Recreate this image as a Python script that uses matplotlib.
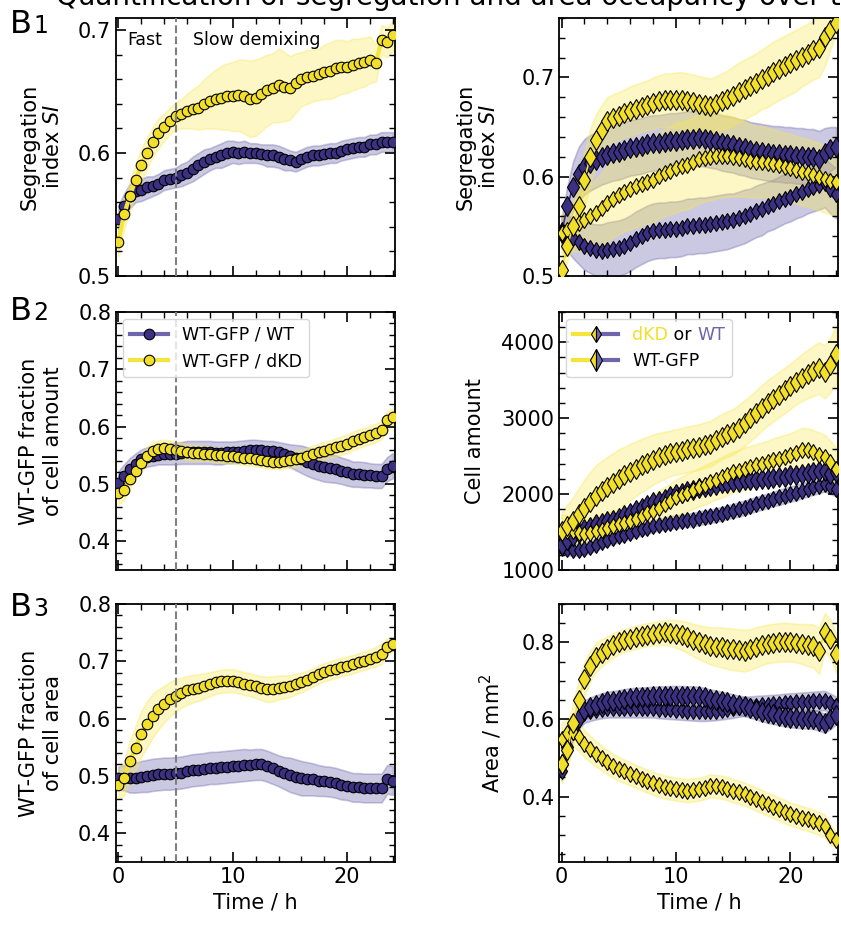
import numpy as np
import matplotlib
matplotlib.use("Agg")
from matplotlib import pyplot as plt
from matplotlib.legend_handler import HandlerBase
from matplotlib.lines import Line2D
from matplotlib.ticker import MultipleLocator

# time points (every 30 min)
t = np.arange(0, 24.5, 0.5)

# ---------- left column: WT-GFP / WT (purple) and WT-GFP / dKD (yellow) ----------
# B1 segregation index
si_wt = [0.546, 0.557, 0.565, 0.569, 0.570, 0.572, 0.573,
         0.575, 0.578, 0.579, 0.580, 0.582, 0.584, 0.587,
         0.590, 0.593, 0.595, 0.597, 0.598, 0.600, 0.601,
         0.600, 0.601, 0.600, 0.600, 0.599, 0.598, 0.598,
         0.597, 0.595, 0.594, 0.593, 0.595, 0.597, 0.598,
         0.598, 0.599, 0.600, 0.600, 0.602, 0.603, 0.604,
         0.605, 0.605, 0.607, 0.607, 0.609, 0.609, 0.609]
si_wt_sd = [0.011, 0.010, 0.010, 0.009, 0.009, 0.009, 0.008,
            0.008, 0.008, 0.008, 0.008, 0.009, 0.009, 0.010,
            0.010, 0.010, 0.009, 0.009, 0.010, 0.010, 0.009,
            0.009, 0.009, 0.008, 0.008, 0.008, 0.009, 0.009,
            0.009, 0.009, 0.008, 0.008, 0.008, 0.008, 0.008,
            0.008, 0.008, 0.008, 0.008, 0.008, 0.008, 0.008,
            0.008, 0.008, 0.008, 0.008, 0.008, 0.008, 0.008]
si_dkd = [0.528, 0.550, 0.565, 0.578, 0.590, 0.600, 0.609,
          0.616, 0.621, 0.626, 0.630, 0.632, 0.634, 0.636,
          0.637, 0.640, 0.642, 0.644, 0.645, 0.646, 0.646,
          0.647, 0.646, 0.644, 0.645, 0.648, 0.651, 0.653,
          0.655, 0.654, 0.653, 0.657, 0.660, 0.662, 0.663,
          0.664, 0.666, 0.667, 0.669, 0.670, 0.670, 0.672,
          0.673, 0.674, 0.676, 0.673, 0.692, 0.690, 0.696]
si_dkd_sd = [0.012, 0.012, 0.012, 0.013, 0.013, 0.013, 0.012,
             0.012, 0.011, 0.011, 0.011, 0.012, 0.014, 0.016,
             0.018, 0.020, 0.022, 0.024, 0.026, 0.027, 0.028,
             0.029, 0.030, 0.031, 0.031, 0.030, 0.029, 0.028,
             0.030, 0.028, 0.026, 0.024, 0.022, 0.022, 0.021,
             0.021, 0.022, 0.023, 0.023, 0.022, 0.021, 0.021,
             0.020, 0.020, 0.019, 0.015, 0.012, 0.012, 0.012]

# B2 WT-GFP fraction of cell amount
n_wt = [0.502, 0.514, 0.526, 0.535, 0.543, 0.547, 0.549,
        0.551, 0.552, 0.552, 0.553, 0.554, 0.555, 0.555,
        0.555, 0.555, 0.555, 0.554, 0.554, 0.555, 0.555,
        0.556, 0.558, 0.559, 0.560, 0.559, 0.558, 0.557,
        0.555, 0.552, 0.549, 0.546, 0.543, 0.539, 0.535,
        0.532, 0.529, 0.527, 0.526, 0.523, 0.520, 0.517,
        0.517, 0.516, 0.515, 0.514, 0.514, 0.526, 0.532]
n_wt_sd = [0.020, 0.020, 0.019, 0.018, 0.017, 0.017, 0.017,
           0.017, 0.018, 0.018, 0.019, 0.019, 0.020, 0.020,
           0.020, 0.020, 0.020, 0.020, 0.020, 0.019, 0.019,
           0.019, 0.018, 0.018, 0.017, 0.017, 0.017, 0.018,
           0.018, 0.019, 0.020, 0.022, 0.024, 0.025, 0.025,
           0.025, 0.025, 0.024, 0.024, 0.023, 0.023, 0.022,
           0.022, 0.022, 0.021, 0.021, 0.021, 0.021, 0.022]
n_dkd = [0.484, 0.490, 0.508, 0.523, 0.537, 0.549, 0.558,
         0.561, 0.562, 0.561, 0.560, 0.557, 0.555, 0.554,
         0.554, 0.553, 0.552, 0.551, 0.550, 0.549, 0.549,
         0.547, 0.546, 0.545, 0.543, 0.542, 0.540, 0.539,
         0.539, 0.540, 0.542, 0.544, 0.546, 0.549, 0.552,
         0.555, 0.558, 0.561, 0.564, 0.567, 0.570, 0.575,
         0.579, 0.582, 0.585, 0.589, 0.594, 0.611, 0.617]
n_dkd_sd = [0.020, 0.018, 0.016, 0.015, 0.015, 0.015, 0.015,
            0.015, 0.015, 0.015, 0.014, 0.014, 0.014, 0.014,
            0.014, 0.013, 0.013, 0.013, 0.013, 0.013, 0.013,
            0.013, 0.013, 0.013, 0.013, 0.013, 0.013, 0.013,
            0.013, 0.013, 0.014, 0.014, 0.014, 0.014, 0.015,
            0.015, 0.015, 0.015, 0.016, 0.016, 0.016, 0.016,
            0.016, 0.016, 0.016, 0.016, 0.016, 0.016, 0.016]

# B3 WT-GFP fraction of cell area
a_wt = [0.496, 0.497, 0.496, 0.497, 0.499, 0.500, 0.502,
        0.503, 0.504, 0.504, 0.505, 0.506, 0.508, 0.510,
        0.511, 0.512, 0.514, 0.514, 0.515, 0.516, 0.517,
        0.518, 0.519, 0.519, 0.520, 0.520, 0.517, 0.513,
        0.509, 0.505, 0.502, 0.499, 0.496, 0.495, 0.494,
        0.492, 0.491, 0.490, 0.488, 0.485, 0.483, 0.480,
        0.480, 0.479, 0.479, 0.479, 0.479, 0.494, 0.492]
a_wt_sd = [0.020, 0.022, 0.025, 0.026, 0.027, 0.028, 0.028,
           0.028, 0.028, 0.028, 0.028, 0.028, 0.028, 0.028,
           0.028, 0.028, 0.028, 0.028, 0.028, 0.028, 0.028,
           0.028, 0.028, 0.027, 0.027, 0.027, 0.027, 0.027,
           0.027, 0.028, 0.030, 0.030, 0.030, 0.029, 0.028,
           0.027, 0.026, 0.026, 0.026, 0.026, 0.025, 0.025,
           0.025, 0.025, 0.025, 0.025, 0.025, 0.025, 0.025]
a_dkd = [0.485, 0.496, 0.526, 0.549, 0.573, 0.590, 0.605,
         0.616, 0.625, 0.634, 0.640, 0.645, 0.649, 0.652,
         0.654, 0.657, 0.660, 0.663, 0.665, 0.666, 0.666,
         0.664, 0.661, 0.659, 0.656, 0.653, 0.651, 0.652,
         0.654, 0.655, 0.657, 0.660, 0.663, 0.667, 0.672,
         0.677, 0.681, 0.684, 0.687, 0.690, 0.692, 0.695,
         0.698, 0.701, 0.704, 0.708, 0.713, 0.725, 0.730]
a_dkd_sd = [0.025, 0.030, 0.035, 0.038, 0.040, 0.040, 0.038,
            0.035, 0.032, 0.030, 0.028, 0.026, 0.025, 0.024,
            0.023, 0.022, 0.021, 0.020, 0.020, 0.020, 0.020,
            0.020, 0.020, 0.020, 0.020, 0.021, 0.022, 0.022,
            0.021, 0.020, 0.019, 0.018, 0.017, 0.016, 0.016,
            0.016, 0.016, 0.016, 0.016, 0.016, 0.016, 0.016,
            0.016, 0.016, 0.016, 0.017, 0.018, 0.015, 0.012]

# ---------- right column: per population ----------
# segregation index
r_si_gfp_dkd = [0.506, 0.530, 0.550, 0.570, 0.597, 0.620, 0.637,
                0.647, 0.656, 0.659, 0.661, 0.664, 0.666, 0.668,
                0.670, 0.672, 0.674, 0.676, 0.677, 0.677, 0.677,
                0.677, 0.676, 0.675, 0.673, 0.672, 0.671, 0.673,
                0.676, 0.678, 0.681, 0.685, 0.688, 0.691, 0.694,
                0.698, 0.701, 0.705, 0.708, 0.711, 0.714, 0.717,
                0.721, 0.724, 0.728, 0.730, 0.741, 0.748, 0.755]
r_si_gfp_dkd_sd = [0.010, 0.015, 0.020, 0.025, 0.028, 0.028, 0.026,
                   0.025, 0.024, 0.024, 0.024, 0.024, 0.025, 0.025,
                   0.025, 0.025, 0.026, 0.026, 0.027, 0.027, 0.028,
                   0.028, 0.028, 0.028, 0.028, 0.028, 0.028, 0.028,
                   0.028, 0.029, 0.030, 0.030, 0.030, 0.030, 0.030,
                   0.030, 0.031, 0.031, 0.031, 0.031, 0.031, 0.031,
                   0.030, 0.030, 0.030, 0.030, 0.030, 0.020, 0.010]
r_si_dkd = [0.543, 0.546, 0.550, 0.553, 0.556, 0.560, 0.563,
            0.568, 0.573, 0.578, 0.582, 0.585, 0.588, 0.591,
            0.593, 0.595, 0.597, 0.601, 0.604, 0.606, 0.609,
            0.611, 0.612, 0.615, 0.618, 0.619, 0.620, 0.621,
            0.621, 0.621, 0.620, 0.619, 0.618, 0.616, 0.615,
            0.615, 0.614, 0.613, 0.612, 0.610, 0.609, 0.607,
            0.605, 0.604, 0.602, 0.600, 0.598, 0.596, 0.595]
r_si_dkd_sd = [0.020, 0.022, 0.025, 0.028, 0.030, 0.032, 0.034,
               0.036, 0.038, 0.039, 0.040, 0.040, 0.041, 0.042,
               0.042, 0.042, 0.043, 0.043, 0.044, 0.044, 0.045,
               0.045, 0.045, 0.045, 0.045, 0.044, 0.044, 0.043,
               0.042, 0.041, 0.040, 0.039, 0.038, 0.037, 0.036,
               0.036, 0.035, 0.035, 0.034, 0.034, 0.034, 0.034,
               0.034, 0.034, 0.034, 0.034, 0.034, 0.034, 0.034]
r_si_gfp_wt = [0.543, 0.570, 0.590, 0.603, 0.610, 0.614, 0.617,
               0.620, 0.622, 0.624, 0.625, 0.627, 0.629, 0.630,
               0.631, 0.633, 0.634, 0.634, 0.635, 0.636, 0.636,
               0.637, 0.638, 0.638, 0.639, 0.638, 0.637, 0.636,
               0.634, 0.633, 0.632, 0.630, 0.629, 0.627, 0.626,
               0.625, 0.624, 0.623, 0.623, 0.622, 0.622, 0.621,
               0.621, 0.620, 0.620, 0.618, 0.624, 0.628, 0.630]
r_si_gfp_wt_sd = [0.015, 0.020, 0.025, 0.027, 0.028, 0.028, 0.028,
                  0.028, 0.028, 0.028, 0.028, 0.028, 0.028, 0.028,
                  0.028, 0.028, 0.028, 0.028, 0.028, 0.028, 0.028,
                  0.028, 0.028, 0.028, 0.028, 0.028, 0.028, 0.028,
                  0.028, 0.028, 0.028, 0.028, 0.028, 0.028, 0.028,
                  0.028, 0.028, 0.028, 0.028, 0.028, 0.028, 0.028,
                  0.028, 0.028, 0.028, 0.028, 0.025, 0.022, 0.020]
r_si_wt = [0.546, 0.543, 0.538, 0.534, 0.530, 0.528, 0.526,
           0.525, 0.526, 0.527, 0.528, 0.530, 0.533, 0.537,
           0.540, 0.543, 0.545, 0.546, 0.546, 0.547, 0.547,
           0.548, 0.550, 0.550, 0.551, 0.551, 0.552, 0.553,
           0.554, 0.555, 0.556, 0.558, 0.560, 0.562, 0.565,
           0.567, 0.570, 0.572, 0.575, 0.578, 0.580, 0.583,
           0.585, 0.588, 0.590, 0.592, 0.594, 0.588, 0.583]
r_si_wt_sd = [0.015, 0.018, 0.020, 0.022, 0.024, 0.025, 0.026,
              0.027, 0.028, 0.028, 0.028, 0.028, 0.028, 0.028,
              0.028, 0.028, 0.028, 0.028, 0.028, 0.028, 0.028,
              0.028, 0.028, 0.028, 0.028, 0.028, 0.028, 0.028,
              0.028, 0.028, 0.027, 0.027, 0.027, 0.026, 0.026,
              0.026, 0.025, 0.025, 0.025, 0.025, 0.025, 0.025,
              0.025, 0.025, 0.025, 0.025, 0.025, 0.025, 0.025]

# cell amount
r_n_gfp_dkd = [1510, 1580, 1645, 1735, 1820, 1900, 1980,
               2035, 2090, 2145, 2200, 2245, 2290, 2335,
               2380, 2415, 2455, 2485, 2510, 2535, 2555,
               2570, 2590, 2605, 2620, 2645, 2665, 2710,
               2755, 2790, 2820, 2875, 2935, 3000, 3065,
               3135, 3200, 3255, 3310, 3365, 3420, 3480,
               3535, 3580, 3620, 3660, 3610, 3700, 3845]
r_n_gfp_dkd_sd = [250, 280, 310, 340, 370, 390, 400,
                  400, 400, 395, 390, 380, 370, 360,
                  350, 340, 330, 320, 310, 300, 300,
                  300, 300, 300, 300, 300, 300, 300,
                  300, 300, 300, 300, 300, 300, 300,
                  300, 300, 300, 300, 300, 300, 300,
                  310, 320, 330, 340, 350, 360, 380]
r_n_dkd = [1530, 1520, 1510, 1490, 1470, 1485, 1510,
           1530, 1555, 1580, 1600, 1620, 1645, 1675,
           1710, 1745, 1780, 1820, 1865, 1910, 1955,
           1990, 2020, 2055, 2090, 2120, 2155, 2190,
           2220, 2255, 2290, 2310, 2335, 2355, 2380,
           2400, 2420, 2445, 2465, 2490, 2510, 2545,
           2580, 2575, 2555, 2520, 2490, 2420, 2335]
r_n_dkd_sd = [200, 200, 200, 200, 200, 200, 200,
              200, 200, 200, 200, 200, 200, 200,
              210, 210, 220, 220, 230, 230, 240,
              240, 250, 250, 250, 260, 260, 260,
              270, 270, 270, 270, 280, 280, 280,
              280, 280, 290, 290, 290, 290, 290,
              290, 290, 290, 290, 290, 280, 280]
r_n_gfp_wt = [1335, 1390, 1445, 1490, 1535, 1570, 1600,
              1620, 1645, 1665, 1690, 1720, 1755, 1790,
              1820, 1855, 1890, 1910, 1935, 1970, 2000,
              2020, 2045, 2060, 2080, 2095, 2110, 2125,
              2140, 2150, 2155, 2165, 2180, 2185, 2190,
              2195, 2200, 2210, 2220, 2230, 2245, 2255,
              2265, 2275, 2290, 2300, 2310, 2270, 2290]
r_n_gfp_wt_sd = [70, 70, 70, 70, 70, 70, 70,
                 70, 70, 70, 70, 70, 70, 70,
                 70, 70, 70, 70, 70, 70, 70,
                 70, 70, 70, 70, 70, 70, 70,
                 70, 70, 70, 70, 70, 70, 70,
                 70, 70, 70, 70, 70, 70, 70,
                 70, 70, 70, 70, 70, 70, 70]
r_n_wt = [1290, 1275, 1265, 1270, 1280, 1305, 1335,
          1370, 1400, 1420, 1445, 1465, 1490, 1510,
          1535, 1555, 1580, 1595, 1610, 1625, 1635,
          1645, 1655, 1665, 1680, 1695, 1705, 1725,
          1740, 1760, 1780, 1800, 1820, 1845, 1865,
          1890, 1910, 1935, 1955, 1980, 2000, 2020,
          2045, 2065, 2090, 2110, 2135, 2100, 2070]
r_n_wt_sd = [80, 80, 80, 80, 80, 80, 80,
             80, 80, 80, 80, 80, 80, 80,
             80, 80, 80, 80, 80, 85, 85,
             85, 85, 90, 90, 90, 90, 90,
             90, 90, 90, 95, 95, 95, 95,
             95, 95, 95, 100, 100, 100, 100,
             100, 100, 100, 100, 100, 100, 100]

# area
r_a_gfp_dkd = [0.485, 0.520, 0.590, 0.651, 0.704, 0.739, 0.761,
               0.773, 0.782, 0.792, 0.800, 0.805, 0.809, 0.813,
               0.817, 0.820, 0.822, 0.824, 0.826, 0.825, 0.822,
               0.818, 0.813, 0.806, 0.800, 0.796, 0.791, 0.789,
               0.787, 0.784, 0.782, 0.780, 0.778, 0.782, 0.787,
               0.792, 0.796, 0.798, 0.800, 0.801, 0.800, 0.798,
               0.796, 0.793, 0.791, 0.778, 0.826, 0.809, 0.770]
r_a_gfp_dkd_sd = [0.050, 0.055, 0.055, 0.050, 0.045, 0.040, 0.038,
                  0.035, 0.033, 0.032, 0.031, 0.030, 0.030, 0.030,
                  0.030, 0.030, 0.030, 0.031, 0.032, 0.034, 0.036,
                  0.038, 0.040, 0.042, 0.044, 0.046, 0.048, 0.050,
                  0.052, 0.053, 0.054, 0.054, 0.054, 0.053, 0.052,
                  0.051, 0.050, 0.050, 0.050, 0.050, 0.050, 0.050,
                  0.052, 0.054, 0.056, 0.060, 0.050, 0.050, 0.050]
r_a_dkd = [0.550, 0.564, 0.568, 0.555, 0.537, 0.524, 0.511,
           0.500, 0.489, 0.480, 0.472, 0.465, 0.459, 0.452,
           0.446, 0.440, 0.434, 0.429, 0.425, 0.422, 0.419,
           0.417, 0.415, 0.417, 0.419, 0.423, 0.428, 0.426,
           0.424, 0.420, 0.415, 0.411, 0.406, 0.400, 0.393,
           0.387, 0.380, 0.374, 0.367, 0.361, 0.354, 0.350,
           0.345, 0.341, 0.336, 0.330, 0.323, 0.301, 0.288]
r_a_dkd_sd = [0.040, 0.040, 0.038, 0.036, 0.035, 0.034, 0.033,
              0.032, 0.032, 0.031, 0.031, 0.030, 0.030, 0.030,
              0.030, 0.030, 0.030, 0.030, 0.030, 0.030, 0.030,
              0.030, 0.030, 0.030, 0.030, 0.030, 0.030, 0.030,
              0.030, 0.030, 0.030, 0.030, 0.030, 0.030, 0.030,
              0.030, 0.030, 0.030, 0.030, 0.030, 0.030, 0.030,
              0.030, 0.030, 0.030, 0.030, 0.030, 0.025, 0.020]
r_a_gfp_wt = [0.485, 0.529, 0.572, 0.603, 0.625, 0.632, 0.638,
              0.643, 0.647, 0.649, 0.651, 0.654, 0.656, 0.657,
              0.658, 0.659, 0.660, 0.661, 0.661, 0.662, 0.662,
              0.662, 0.661, 0.661, 0.660, 0.657, 0.653, 0.650,
              0.647, 0.644, 0.640, 0.637, 0.634, 0.629, 0.625,
              0.620, 0.616, 0.613, 0.610, 0.607, 0.605, 0.603,
              0.602, 0.601, 0.600, 0.596, 0.590, 0.600, 0.612]
r_a_wt = [0.467, 0.520, 0.572, 0.600, 0.616, 0.621, 0.625,
          0.628, 0.630, 0.630, 0.630, 0.630, 0.630, 0.630,
          0.630, 0.630, 0.630, 0.628, 0.627, 0.626, 0.625,
          0.624, 0.623, 0.622, 0.621, 0.621, 0.622, 0.623,
          0.625, 0.627, 0.629, 0.632, 0.634, 0.635, 0.636,
          0.637, 0.638, 0.639, 0.640, 0.642, 0.643, 0.644,
          0.645, 0.646, 0.647, 0.648, 0.649, 0.642, 0.634]
r_a_wt_sd = [0.025, 0.025, 0.025, 0.025, 0.025, 0.025, 0.025,
             0.025, 0.025, 0.025, 0.025, 0.025, 0.025, 0.025,
             0.025, 0.025, 0.025, 0.025, 0.025, 0.025, 0.025,
             0.025, 0.025, 0.025, 0.025, 0.025, 0.025, 0.025,
             0.025, 0.025, 0.025, 0.025, 0.025, 0.025, 0.025,
             0.025, 0.025, 0.025, 0.025, 0.025, 0.025, 0.025,
             0.025, 0.025, 0.025, 0.025, 0.025, 0.025, 0.025]

# colours
PURPLE = "#3c3082"
PURPLE_LINE = "#6e66ab"
PURPLE_BAND = "#6a62ab"
YELLOW = "#f2df2a"
YELLOW_LINE = "#f5e43c"
YELLOW_BAND = "#f7e956"

FS = 15

plt.rcParams["font.family"] = "DejaVu Sans"
fig = plt.figure(figsize=(8.41, 9.32), dpi=100)

W, H = 0.332, 0.277
LX, RX = 0.138, 0.665
ROWS = [0.7039, 0.3884, 0.0751]
PANEL_TAG_DROP = [15, 8, 12]  # px below axes top for the B-labels


def style(ax, ylim, ymaj, ymin, bottom_row):
    ax.set_xlim(-0.2, 24.2)
    ax.set_ylim(*ylim)
    ax.xaxis.set_major_locator(MultipleLocator(10))
    ax.xaxis.set_minor_locator(MultipleLocator(2))
    ax.yaxis.set_major_locator(MultipleLocator(ymaj))
    ax.yaxis.set_minor_locator(MultipleLocator(ymin))
    ax.tick_params(which="both", direction="in", top=True, right=True, labelsize=FS)
    ax.tick_params(which="major", length=7, width=1.2)
    ax.tick_params(which="minor", length=4, width=1.0)
    for s in ax.spines.values():
        s.set_linewidth(1.3)
    if bottom_row:
        ax.set_xlabel("Time / h", fontsize=FS)
    else:
        ax.tick_params(labelbottom=False)


def band(ax, y, sd, color, alpha=0.35):
    y = np.array(y, dtype=float)
    sd = np.array(sd, dtype=float)
    ax.fill_between(t, y - sd, y + sd, color=color, alpha=alpha, lw=1.2, zorder=1)


def circles(ax, y, face, line, label=None):
    ax.plot(t, y, "-o", color=line, lw=3, ms=7.6, mfc=face, mec="black",
            mew=0.8, label=label, zorder=3)


def diamonds(ax, y, face, ms):
    ax.plot(t, y, "-d", color=face, lw=1.2, ms=ms, mfc=face, mec="black",
            mew=0.8, zorder=3)


# ---- left column ----
left_data = [
    (si_wt, si_wt_sd, si_dkd, si_dkd_sd, (0.5, 0.71), 0.1, 0.02, "Segregation\nindex $SI$"),
    (n_wt, n_wt_sd, n_dkd, n_dkd_sd, (0.35, 0.8), 0.1, 0.02, "WT-GFP fraction\nof cell amount"),
    (a_wt, a_wt_sd, a_dkd, a_dkd_sd, (0.35, 0.8), 0.1, 0.02, "WT-GFP fraction\nof cell area"),
]
for i, (yw, sw, yd, sdd, ylim, maj, mnr, lab) in enumerate(left_data):
    ax = fig.add_axes([LX, ROWS[i], W, H])
    band(ax, yw, sw, PURPLE_BAND)
    band(ax, yd, sdd, YELLOW_BAND)
    circles(ax, yw, PURPLE, PURPLE_LINE, "WT-GFP / WT")
    circles(ax, yd, YELLOW, YELLOW_LINE, "WT-GFP / dKD")
    ax.axvline(5, color="gray", ls="--", lw=1.5, zorder=4)
    style(ax, ylim, maj, mnr, i == 2)
    ax.set_ylabel(lab, fontsize=FS, labelpad=11)
    if i == 0:
        ax.text(0.8, 0.692, "Fast", fontsize=12.5, va="center")
        ax.text(6.5, 0.692, "Slow demixing", fontsize=12.5, va="center")
    if i == 1:
        ax.legend(loc="upper left", fontsize=12.5, frameon=True, edgecolor="#cccccc",
                  handlelength=2.2, borderaxespad=0.4)
    ybase = ROWS[i] + H - PANEL_TAG_DROP[i] / 932
    fig.text(0.012, ybase, "B", fontsize=23, va="baseline")
    fig.text(0.040, ybase, str(i + 1), fontsize=17, va="baseline")


# ---- right column ----
right_data = [
    (r_si_wt, r_si_wt_sd, r_si_gfp_wt, r_si_gfp_wt_sd,
     r_si_dkd, r_si_dkd_sd, r_si_gfp_dkd, r_si_gfp_dkd_sd,
     (0.5, 0.76), 0.1, 0.02, "Segregation\nindex $SI$", 16),
    (r_n_wt, r_n_wt_sd, r_n_gfp_wt, r_n_gfp_wt_sd,
     r_n_dkd, r_n_dkd_sd, r_n_gfp_dkd, r_n_gfp_dkd_sd,
     (1000, 4400), 1000, 200, "Cell amount", 12),
    (r_a_wt, r_a_wt_sd, r_a_gfp_wt, r_a_wt_sd,
     r_a_dkd, r_a_dkd_sd, r_a_gfp_dkd, r_a_gfp_dkd_sd,
     (0.23, 0.9), 0.2, 0.05, "Area / mm$^2$", 12),
]
for i, row in enumerate(right_data):
    (w, ws, gw, gws, d, ds, gd, gds, ylim, maj, mnr, lab, pad) = row
    ax = fig.add_axes([RX, ROWS[i], W, H])
    band(ax, w, ws, PURPLE_BAND)
    band(ax, gw, gws, PURPLE_BAND)
    band(ax, d, ds, YELLOW_BAND)
    band(ax, gd, gds, YELLOW_BAND)
    diamonds(ax, w, PURPLE, 8)
    diamonds(ax, gw, PURPLE, 10.5)
    diamonds(ax, d, YELLOW, 8)
    diamonds(ax, gd, YELLOW, 10.5)
    style(ax, ylim, maj, mnr, i == 2)
    ax.set_ylabel(lab, fontsize=FS, labelpad=pad)
    if i == 1:
        ax_leg = ax


class SplitHandler(HandlerBase):
    def __init__(self, ms):
        super().__init__()
        self.ms = ms

    def create_artists(self, legend, orig_handle, xdescent, ydescent, width,
                       height, fontsize, trans):
        y = (height - ydescent) / 2.0
        x0 = -xdescent
        l1 = Line2D([x0, x0 + width / 2], [y, y], color=YELLOW_LINE, lw=3)
        l2 = Line2D([x0 + width / 2, x0 + width], [y, y], color=PURPLE_LINE, lw=3)
        m = Line2D([x0 + width / 2], [y], marker="d", ms=self.ms, fillstyle="left",
                   markerfacecolor=YELLOW, markerfacecoloralt=PURPLE_LINE,
                   markeredgecolor="black", mew=0.8, ls="none")
        for a in (l1, l2, m):
            a.set_transform(trans)
        return [l1, l2, m]


h_small = Line2D([], [])
h_big = Line2D([], [])
leg = ax_leg.legend([h_small, h_big], ["dKD or WT", "WT-GFP"], loc="upper left",
                    fontsize=12.5, edgecolor="#cccccc", handlelength=2.6,
                    borderaxespad=0.4,
                    handler_map={h_small: SplitHandler(8), h_big: SplitHandler(11)})
t0 = leg.get_texts()[0]
t0.set_alpha(0)
a1 = ax_leg.annotate("dKD", xy=(0, 0), xycoords=t0, ha="left", va="bottom",
                     color=YELLOW, fontsize=12.5, zorder=10)
a2 = ax_leg.annotate(" or ", xy=(1, 0), xycoords=a1, ha="left", va="bottom",
                     color="black", fontsize=12.5, zorder=10)
a3 = ax_leg.annotate("WT", xy=(1, 0), xycoords=a2, ha="left", va="bottom",
                     color=PURPLE_LINE, fontsize=12.5, zorder=10)

# the figure title is cropped at the top edge in the source image
fig.text(0.067, 0.9950, "Quantification of segregation and area occupancy over time",
         fontsize=20, va="baseline", ha="left")

fig.savefig("out.png", dpi=100)
